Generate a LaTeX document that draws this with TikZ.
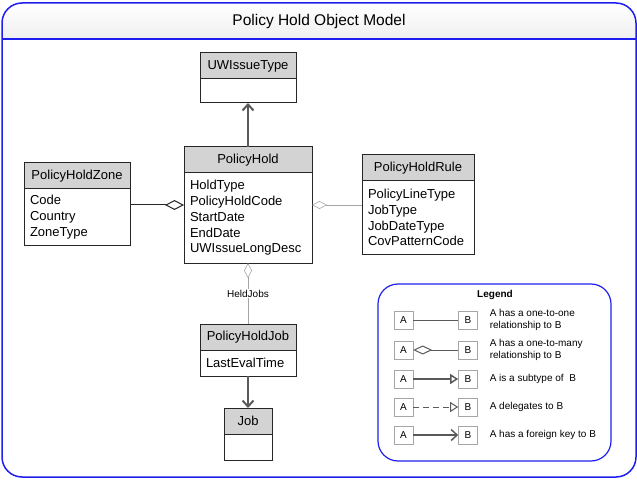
\documentclass[tikz,border=0pt]{standalone}
\usepackage{fontspec}
\setmainfont{Liberation Sans}
\usetikzlibrary{positioning,arrows.meta}
\definecolor{frameblue}{RGB}{30,30,240}
\definecolor{hdrgray}{RGB}{211,211,211}
\definecolor{linkgray}{RGB}{90,90,90}
\definecolor{thingray}{RGB}{165,165,165}

\begin{document}
\begin{tikzpicture}[
    x=1pt, y=1pt,
    hdr/.style={rectangle, draw=black!85, fill=hdrgray, line width=1pt, inner sep=0pt, outer sep=0pt, minimum height=26pt, font=\fontsize{13}{15.75}\selectfont},
    attrs/.style={rectangle, draw=black!85, fill=white, line width=1pt, inner xsep=6pt, inner ysep=0pt, outer sep=0pt, align=left, font=\fontsize{13}{15.75}\selectfont},
    owns/.style={{Diamond[open,length=19pt,width=10pt,line width=1pt]}-, line width=1pt, draw=black!85},
    agg/.style={{Diamond[open,length=15pt,width=8pt]}-, line width=0.6pt, draw=thingray},
    refers/.style={-{Straight Barb[length=6pt,width=11pt]}, line width=2pt, draw=linkgray},
    isa/.style={-{Triangle[open,length=8pt,width=10pt]}, line width=1.5pt, draw=linkgray},
    lbox/.style={rectangle, draw=gray!70, minimum width=19pt, minimum height=18pt, inner sep=0pt, font=\fontsize{10}{12}\selectfont},
    ltext/.style={anchor=west, inner sep=0pt, align=left, font=\fontsize{10}{12}\selectfont}
]
    \useasboundingbox (0,0) rectangle (637,480);

    % Frame and title band
    \fill[top color=white, bottom color=gray!12] (2,441) -- (2,457) arc[start angle=180, end angle=90, radius=20] -- (616,477) arc[start angle=90, end angle=0, radius=20] -- (636,441) -- cycle;
    \draw[frameblue, line width=1.5pt, rounded corners=20pt] (2,3) rectangle (636,477);
    \draw[frameblue, line width=1.2pt] (2,441) -- (636,441);
    \node[font=\fontsize{15.5}{18}\selectfont] (title) at (319,459) {Policy Hold Object Model};

    % Classes
    \node[hdr, minimum width=96pt] (uwh) at (248,414) {UWIssueType};
    \node[attrs, text width=84pt, minimum height=24pt, below=0pt of uwh] (uwb) {};

    \node[hdr, minimum width=128pt] (holdh) at (248,320) {PolicyHold};
    \node[attrs, text width=116pt, minimum height=90pt, below=0pt of holdh] (holdb) {HoldType\\PolicyHoldCode\\StartDate\\EndDate\\UWIssueLongDesc};

    \node[hdr, minimum width=106pt] (zoneh) at (77,304) {PolicyHoldZone};
    \node[attrs, text width=94pt, minimum height=56pt, below=0pt of zoneh] (zoneb) {Code\\Country\\ZoneType};

    \node[hdr, minimum width=112pt] (ruleh) at (418,312) {PolicyHoldRule};
    \node[attrs, text width=100pt, minimum height=73pt, below=0pt of ruleh] (ruleb) {PolicyLineType\\JobType\\JobDateType\\CovPatternCode};

    \node[hdr, minimum width=96pt] (jobh) at (248,143) {PolicyHoldJob};
    \node[attrs, text width=84pt, minimum height=26pt, below=0pt of jobh] (jobb) {LastEvalTime};

    \node[hdr, minimum width=48pt] (plainjobh) at (248,59) {Job};
    \node[attrs, text width=36pt, minimum height=26pt, below=0pt of plainjobh] (plainjobb) {};

    % Connectors
    \coordinate (holdleft) at ([yshift=13pt]holdb.west);
    \coordinate (holdright) at ([yshift=13pt]holdb.east);
    \draw[refers] (holdh) -- (uwb);
    \draw[owns] (holdleft) -- (holdleft -| zoneb.east);
    \draw[agg] (holdright) -- (holdright -| ruleb.west);
    \draw[agg] (holdb) -- node[fill=white, inner sep=1pt, font=\fontsize{10}{12}\selectfont] {HeldJobs} (jobh);
    \draw[refers] (jobb) -- (plainjobh);

    % Legend
    \draw[frameblue, line width=1.2pt, rounded corners=20pt] (378,19) rectangle (611,196);
    \node[font=\fontsize{10}{12}\selectfont\bfseries] (legend) at (495,185) {Legend};

    \node[lbox] (a1) at (403.5,160) {A};
    \node[lbox, right=45pt of a1] (b1) {B};
    \node[ltext, right=12pt of b1] (t1) {A has a one-to-one\\relationship to B};
    \node[lbox] (a2) at (403.5,130) {A};
    \node[lbox, right=45pt of a2] (b2) {B};
    \node[ltext, right=12pt of b2] (t2) {A has a one-to-many\\relationship to B};
    \node[lbox] (a3) at (403.5,101) {A};
    \node[lbox, right=45pt of a3] (b3) {B};
    \node[ltext, right=12pt of b3] (t3) {A is a subtype of~~B};
    \node[lbox] (a4) at (403.5,73) {A};
    \node[lbox, right=45pt of a4] (b4) {B};
    \node[ltext, right=12pt of b4] (t4) {A delegates to B};
    \node[lbox] (a5) at (403.5,45) {A};
    \node[lbox, right=45pt of a5] (b5) {B};
    \node[ltext, right=12pt of b5] (t5) {A has a foreign key to B};

    \draw[line width=1pt, draw=linkgray] (a1) -- (b1);
    \draw[{Diamond[open,length=19pt,width=9pt]}-, line width=1pt, draw=linkgray] (a2) -- (b2);
    \draw[isa] (a3) -- (b3);
    \draw[isa, line width=1pt, dash pattern=on 6pt off 4pt] (a4) -- (b4);
    \draw[refers, line width=1.5pt] (a5) -- (b5);
\end{tikzpicture}
\end{document}
